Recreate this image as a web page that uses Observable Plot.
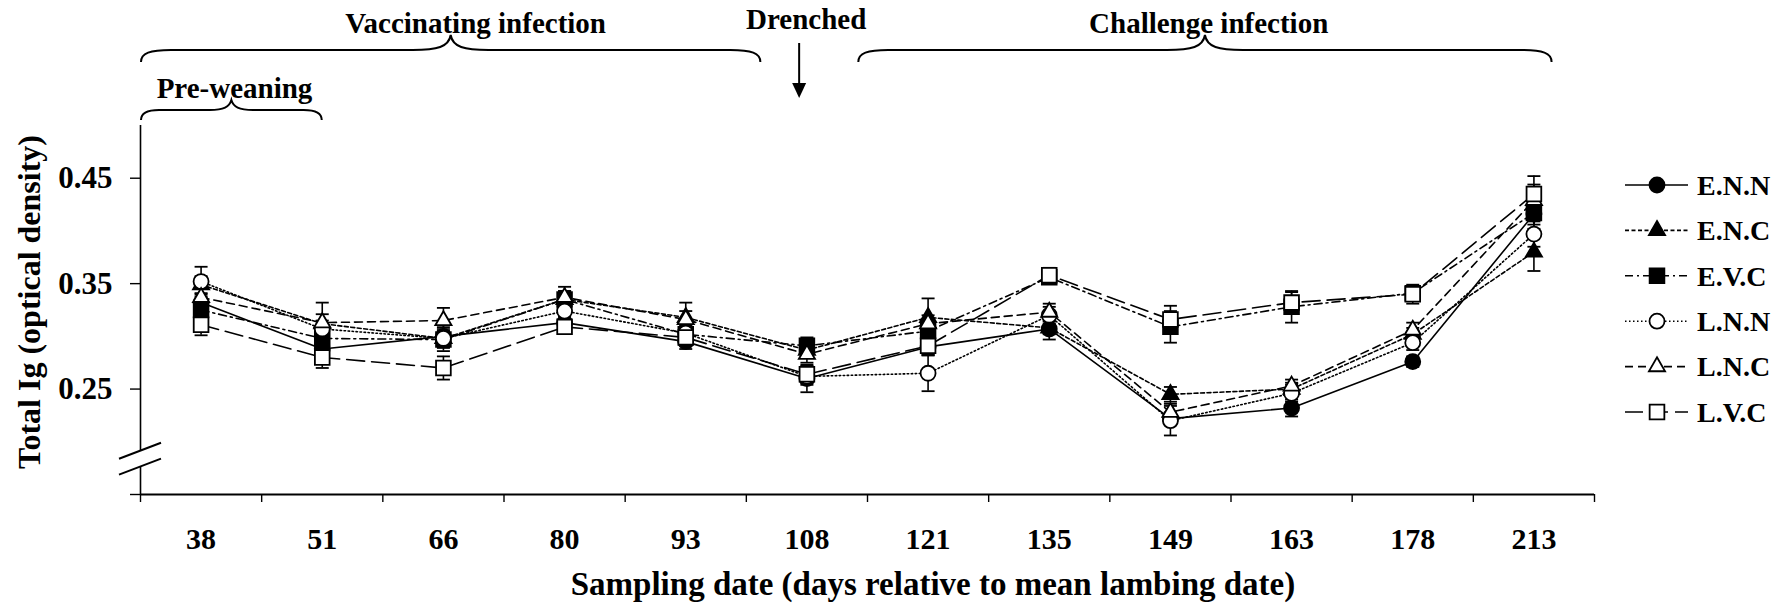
<!DOCTYPE html>
<html><head><meta charset="utf-8">
<script src="https://cdn.jsdelivr.net/npm/d3@7"></script>
<script src="https://cdn.jsdelivr.net/npm/@observablehq/plot@0.6"></script>
<style>html,body{margin:0;padding:0;background:#fff;} #chart svg{display:block;}</style>
</head><body><div id="chart"></div>
<script>
// ---- data ----
const days = [38, 51, 66, 80, 93, 108, 121, 135, 149, 163, 178, 213];
const groups = ["E.N.N", "E.N.C", "E.V.C", "L.N.N", "L.N.C", "L.V.C"];
const ENN = [0.332, 0.288, 0.300, 0.313, 0.295, 0.260, 0.290, 0.307, 0.222, 0.232, 0.276, 0.416];
const ENC = [0.349, 0.312, 0.298, 0.335, 0.318, 0.287, 0.318, 0.308, 0.245, 0.250, 0.302, 0.380];
const EVC = [0.325, 0.298, 0.297, 0.335, 0.302, 0.291, 0.305, 0.356, 0.309, 0.328, 0.341, 0.417];
const LNN = [0.352, 0.307, 0.298, 0.324, 0.303, 0.262, 0.265, 0.320, 0.220, 0.246, 0.294, 0.397];
const LNC = [0.337, 0.313, 0.315, 0.337, 0.316, 0.283, 0.312, 0.323, 0.228, 0.253, 0.306, 0.429];
const LVC = [0.311, 0.280, 0.270, 0.309, 0.299, 0.264, 0.291, 0.358, 0.316, 0.332, 0.340, 0.435];
const seENN = [0.008, 0.008, 0.008, 0.006, 0.007, 0.013, 0.008, 0.010, 0.006, 0.008, 0.005, 0.010];
const seENC = [0.008, 0.020, 0.008, 0.008, 0.014, 0.006, 0.018, 0.006, 0.007, 0.006, 0.006, 0.018];
const seEVC = [0.008, 0.012, 0.008, 0.008, 0.008, 0.008, 0.010, 0.006, 0.015, 0.015, 0.006, 0.015];
const seLNN = [0.014, 0.008, 0.012, 0.008, 0.008, 0.008, 0.017, 0.008, 0.014, 0.008, 0.007, 0.012];
const seLNC = [0.008, 0.008, 0.012, 0.010, 0.008, 0.008, 0.008, 0.008, 0.008, 0.006, 0.007, 0.015];
const seLVC = [0.010, 0.010, 0.011, 0.006, 0.008, 0.008, 0.008, 0.007, 0.013, 0.010, 0.009, 0.017];
const yTicks = [0.15, 0.25, 0.35, 0.45];
const yLabel = "Total Ig (optical density)";
const xLabel = "Sampling date (days relative to mean lambing date)";
// phase annotations (positions in category-index units)
const phaseLabels = ["Pre-weaning", "Vaccinating infection", "Challenge infection"];
const phaseFrom = [0, 0, 5.92];
const phaseTo = [1.5, 5.12, 11.65];
const phaseLabelAt = [0.78, 2.77, 8.82];
const phaseRow = [2, 1, 1];
const drenchLabel = "Drenched";
const drenchAt = 5.44;
const axisBreak = [0.176, 0.191];

// ---- build table ----
const values = [ENN, ENC, EVC, LNN, LNC, LVC];
const ses = [seENN, seENC, seEVC, seLNN, seLNC, seLVC];
const rows = [];
groups.forEach((g, gi) => days.forEach((d, i) => rows.push({group: g, day: d, u: i + 0.5, v: values[gi][i], se: ses[gi][i]})));

const FONT = '"Liberation Serif", "Times New Roman", serif';
const style = {
  "E.N.N": {symbol: "circle", fill: "black", dash: null, r: 7.5},
  "E.N.C": {symbol: "triangle", fill: "black", dash: "4,2.5", r: 6},
  "E.V.C": {symbol: "square", fill: "black", dash: "8,4,2,4", r: 8.3},
  "L.N.N": {symbol: "circle", fill: "white", dash: "1.5,2.5", r: 7.5},
  "L.N.C": {symbol: "triangle", fill: "white", dash: "8,5", r: 6},
  "L.V.C": {symbol: "square", fill: "white", dash: "18,7", r: 8.3}
};
const capSymbol = {draw(ctx, size) { const w = Math.sqrt(size / Math.PI); ctx.moveTo(-w, 0); ctx.lineTo(w, 0); }};
const d3sym = {circle: d3.symbolCircle, triangle: d3.symbolTriangle, square: d3.symbolSquare};

function annotations(index, scales, vals, dims) {
  const sx = scales.x, sy = scales.y;
  const g = d3.create("svg:g").attr("font-family", FONT).attr("font-weight", "bold").attr("fill", "black");
  const rowY = {1: {text: 33, peak: 35, line: 50, end: 62}, 2: {text: 98, peak: 100, line: 110, end: 120}};
  phaseLabels.forEach((lab, i) => {
    const x0 = sx(phaseFrom[i]) + 1, x1 = sx(phaseTo[i]), xm = (x0 + x1) / 2;
    const R = rowY[phaseRow[i]];
    const len = x1 - x0;
    const ew = Math.min(30, len * 0.1), mw = Math.min(38, len * 0.12);
    const p = `M${x0},${R.end} C${x0},${R.line + 3} ${x0 + ew * 0.3},${R.line} ${x0 + ew},${R.line}
      L${xm - mw},${R.line} C${xm - mw * 0.35},${R.line} ${xm - 2},${R.line - 3} ${xm},${R.peak}
      C${xm + 2},${R.line - 3} ${xm + mw * 0.35},${R.line} ${xm + mw},${R.line}
      L${x1 - ew},${R.line} C${x1 - ew * 0.3},${R.line} ${x1},${R.line + 3} ${x1},${R.end}`;
    g.append("path").attr("d", p).attr("fill", "none").attr("stroke", "black").attr("stroke-width", 2);
    g.append("text").attr("x", sx(phaseLabelAt[i])).attr("y", R.text).attr("text-anchor", "middle")
      .attr("font-size", 29).text(lab);
  });
  // drench arrow
  const xd = sx(drenchAt);
  g.append("text").attr("x", xd + 7).attr("y", 29).attr("text-anchor", "middle").attr("font-size", 29).text(drenchLabel);
  g.append("line").attr("x1", xd).attr("x2", xd).attr("y1", 43).attr("y2", 86).attr("stroke", "black").attr("stroke-width", 2);
  g.append("path").attr("d", `M${xd - 7},${83} L${xd + 7},${83} L${xd},${98} Z`).attr("fill", "black");
  // axis break
  const ax = sx(0);
  const ya = sy(axisBreak[1]), yb = sy(axisBreak[0]);
  g.append("path").attr("d", `M${ax - 21},${ya + 8} L${ax + 21},${ya - 8} L${ax + 21},${yb - 8} L${ax - 21},${yb + 8} Z`).attr("fill", "white");
  [ya, yb].forEach(yy => g.append("line").attr("x1", ax - 21).attr("y1", yy + 8).attr("x2", ax + 21).attr("y2", yy - 8)
    .attr("stroke", "black").attr("stroke-width", 2));
  // axis titles
  g.append("text").attr("transform", `translate(40,302) rotate(-90)`).attr("text-anchor", "middle").attr("font-size", 32).text(yLabel);
  const cx = (dims.marginLeft + dims.width - dims.marginRight) / 2 + 66;
  g.append("text").attr("x", cx).attr("y", 595).attr("text-anchor", "middle").attr("font-size", 33).text(xLabel);
  // legend
  groups.forEach((grp, i) => {
    const st = style[grp];
    const y = 185 + i * 45.4;
    g.append("line").attr("x1", 1625).attr("x2", 1688).attr("y1", y).attr("y2", y).attr("stroke", "black")
      .attr("stroke-width", 1.6).attr("stroke-dasharray", st.dash);
    g.append("path").attr("transform", `translate(1657,${y})`)
      .attr("d", d3.symbol(d3sym[st.symbol], st.r * st.r * Math.PI)())
      .attr("fill", st.fill).attr("stroke", "black").attr("stroke-width", 1.8);
    g.append("text").attr("x", 1697).attr("y", y).attr("dy", "0.35em").attr("text-anchor", "start")
      .attr("font-size", 28).text(grp);
  });
  return g.node();
}

const marks = [
  Plot.ruleX([0], {y1: 0.15, y2: 0.5, stroke: "black", strokeWidth: 1.6}),
  Plot.ruleY([0.15], {x1: 0, x2: 12, stroke: "black", strokeWidth: 2.2}),
  Plot.axisY({ticks: yTicks, tickFormat: d => d === 0.15 ? "" : d.toFixed(2), tickSize: 10, tickPadding: 18, label: null, fontSize: 31, strokeWidth: 1.4}),
  Plot.axisX({ticks: d3.range(13), tickFormat: () => "", tickSize: 8, label: null, strokeWidth: 1.4}),
  Plot.axisX({ticks: days.map((d, i) => i + 0.5), tickFormat: u => days[Math.floor(u)], tickSize: 0, tickPadding: 33, label: null, fontSize: 30}),
  Plot.ruleX(rows, {x: "u", y1: d => d.v - d.se, y2: d => d.v + d.se, stroke: "black", strokeWidth: 1.6}),
  Plot.dot(rows, {x: "u", y: d => d.v + d.se, symbol: capSymbol, r: 6.5, stroke: "black", strokeWidth: 1.8, fill: "none"}),
  Plot.dot(rows, {x: "u", y: d => d.v - d.se, symbol: capSymbol, r: 6.5, stroke: "black", strokeWidth: 1.8, fill: "none"})
];
groups.forEach(grp => {
  marks.push(Plot.line(rows.filter(r => r.group === grp), {x: "u", y: "v", stroke: "black", strokeWidth: 1.6, strokeDasharray: style[grp].dash}));
});
groups.forEach(grp => {
  const st = style[grp];
  marks.push(Plot.dot(rows.filter(r => r.group === grp), {x: "u", y: "v", symbol: st.symbol, r: st.r, fill: st.fill, stroke: "black", strokeWidth: 1.8}));
});
marks.push(annotations);

const chart = Plot.plot({
  width: 1790, height: 608,
  marginLeft: 140, marginRight: 196, marginTop: 125, marginBottom: 114,
  x: {type: "linear", domain: [0, 12]},
  y: {type: "linear", domain: [0.15, 0.5]},
  style: {fontFamily: FONT, fontWeight: "bold", fontSize: "30px", background: "white", color: "black"},
  marks
});
document.getElementById("chart").appendChild(chart);
</script>
</body></html>
